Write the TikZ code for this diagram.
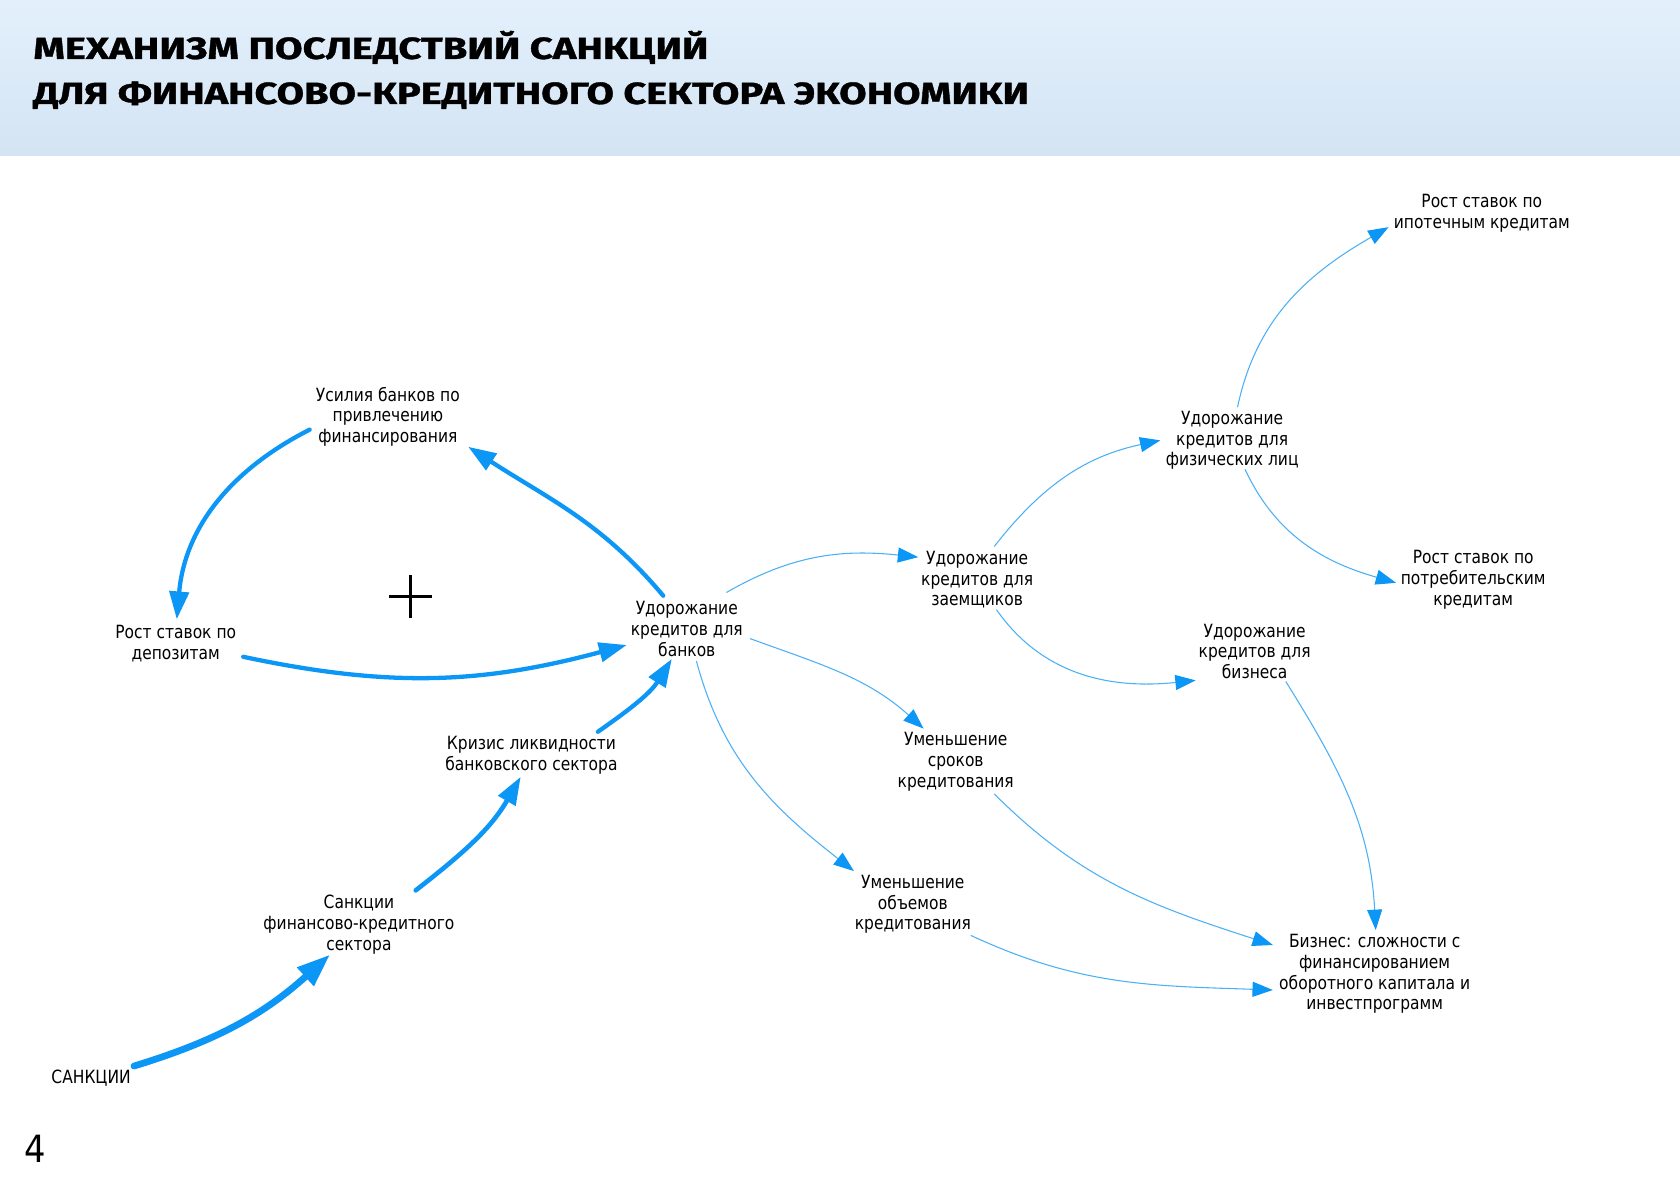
\documentclass[tikz,border=0pt]{standalone}
\usepackage{fontspec}
\usetikzlibrary{arrows.meta}
\newfontfamily\nodefont{DejaVu Sans}[FakeStretch=0.85]
\newfontfamily\titlefont{Fira Sans}[FakeBold=1]
\newfontfamily\numfont{DejaVu Sans}[FakeStretch=0.9]
\definecolor{abl}{RGB}{12,150,245}
\definecolor{athin}{RGB}{75,176,246}
\definecolor{hdtop}{RGB}{227,240,252}
\definecolor{hdbot}{RGB}{212,228,243}
\begin{document}
\begin{tikzpicture}[x=1pt,y=1pt,
  lbl/.style={align=center,inner sep=0pt,font=\nodefont\fontsize{17}{19.3}\selectfont},
  bigarr/.style={draw=abl,line width=4pt,line cap=round,-{Triangle[length=26pt,width=18pt]}},
  hugearr/.style={draw=abl,line width=6.3pt,line cap=round,-{Triangle[length=31pt,width=22pt]}},
  thinarr/.style={draw=athin,line width=1pt,-{Triangle[length=19pt,width=14pt,color=abl]}},
  ttl/.style={anchor=base west,inner sep=0pt}]
\useasboundingbox (0,0) rectangle (1568,-1108);
\shade[top color=hdtop,bottom color=hdbot] (0,0) rectangle (1568,-145);
\node[ttl] (t1) at (31,-55) {\resizebox{630pt}{\height}{\titlefont\bfseries\fontsize{28.5}{30}\selectfont МЕХАНИЗМ ПОСЛЕДСТВИЙ САНКЦИЙ}};
\node[ttl] (t2) at (31,-97) {\resizebox{929pt}{\height}{\titlefont\bfseries\fontsize{28.5}{30}\selectfont ДЛЯ ФИНАНСОВО-КРЕДИТНОГО СЕКТОРА ЭКОНОМИКИ}};

\node[lbl] (usil)   at (362,-389)  {Усилия банков по\\привлечению\\финансирования};
\node[lbl] (depo)   at (164,-601)  {Рост ставок по\\депозитам};
\node[lbl] (bankov) at (641,-587)  {Удорожание\\кредитов для\\банков};
\node[lbl] (krizis) at (496,-705)  {Кризис ликвидности\\банковского сектора};
\node[lbl] (sankfk) at (335,-863)  {Санкции\\финансово-кредитного\\сектора};
\node[lbl] (sank)   at (85,-1006)  {САНКЦИИ};
\node[lbl] (zaem)   at (912,-541)  {Удорожание\\кредитов для\\заемщиков};
\node[lbl] (fiz)    at (1150,-411) {Удорожание\\кредитов для\\физических лиц};
\node[lbl] (ipot)   at (1383,-199) {Рост ставок по\\ипотечным кредитам};
\node[lbl] (potreb) at (1375,-541) {Рост ставок по\\потребительским\\кредитам};
\node[lbl] (bizn)   at (1171,-608) {Удорожание\\кредитов для\\бизнеса};
\node[lbl] (srok)   at (892,-711)  {Уменьшение\\сроков\\кредитования};
\node[lbl] (obem)   at (852,-844)  {Уменьшение\\объемов\\кредитования};
\node[lbl] (slozh)  at (1283,-909) {Бизнес: сложности с\\финансированием\\оборотного капитала и\\инвестпрограмм};

\node[inner sep=0pt,font=\numfont\fontsize{35}{40}\selectfont] (pg) at (33,-1072) {4};
\draw[line width=2.6pt] (363,-557) -- (403,-557) (383,-537) -- (383,-577);

% thick loop
\draw[bigarr] ([shift={(-22,31)}]bankov.center) to[out=130,in=-33] ([shift={(75,-28)}]usil.center);
\draw[bigarr] ([shift={(-73,-12)}]usil.center) to[out=207,in=85] ([shift={(1,23)}]depo.center);
\draw[bigarr] ([shift={(63,-12)}]depo.center) to[out=-12,in=-165] ([shift={(-56,-15)}]bankov.center);
\draw[bigarr] ([shift={(62,22)}]krizis.center) to[out=35,in=-122] ([shift={(-14,-28)}]bankov.center);
\draw[bigarr,line width=4.3pt] ([shift={(53,32)}]sankfk.center) to[out=38,in=-120] ([shift={(-10,-20)}]krizis.center);
\draw[hugearr] ([shift={(40,11)}]sank.center) to[out=17,in=-138] ([shift={(-27,-28)}]sankfk.center);

% thin
\draw[thinarr] ([shift={(37,34)}]bankov.center) to[out=30,in=174] ([shift={(-55,21)}]zaem.center);
\draw[thinarr] ([shift={(16,31)}]zaem.center) to[out=52,in=192] ([shift={(-67,0)}]fiz.center);
\draw[thinarr] ([shift={(5,31)}]fiz.center) to[out=78,in=210] ([shift={(-87,-13)}]ipot.center);
\draw[thinarr] ([shift={(12,-27)}]fiz.center) to[out=-65,in=164] ([shift={(-72,-3)}]potreb.center);
\draw[thinarr] ([shift={(18,-28)}]zaem.center) to[out=-55,in=186] ([shift={(-55,-27)}]bizn.center);
\draw[thinarr] ([shift={(59,-9)}]bankov.center) to[out=-20,in=138] ([shift={(-30,31)}]srok.center);
\draw[thinarr] ([shift={(9,-30)}]bankov.center) to[out=-75,in=142] ([shift={(-55,31)}]obem.center);
\draw[thinarr] ([shift={(36,-30)}]srok.center) to[out=-45,in=162] ([shift={(-95,27)}]slozh.center);
\draw[thinarr] ([shift={(54,-29)}]obem.center) to[out=-25,in=178] ([shift={(-95,-15)}]slozh.center);
\draw[thinarr] ([shift={(29,-28)}]bizn.center) to[out=-58,in=93] ([shift={(1,41)}]slozh.center);
\end{tikzpicture}
\end{document}
